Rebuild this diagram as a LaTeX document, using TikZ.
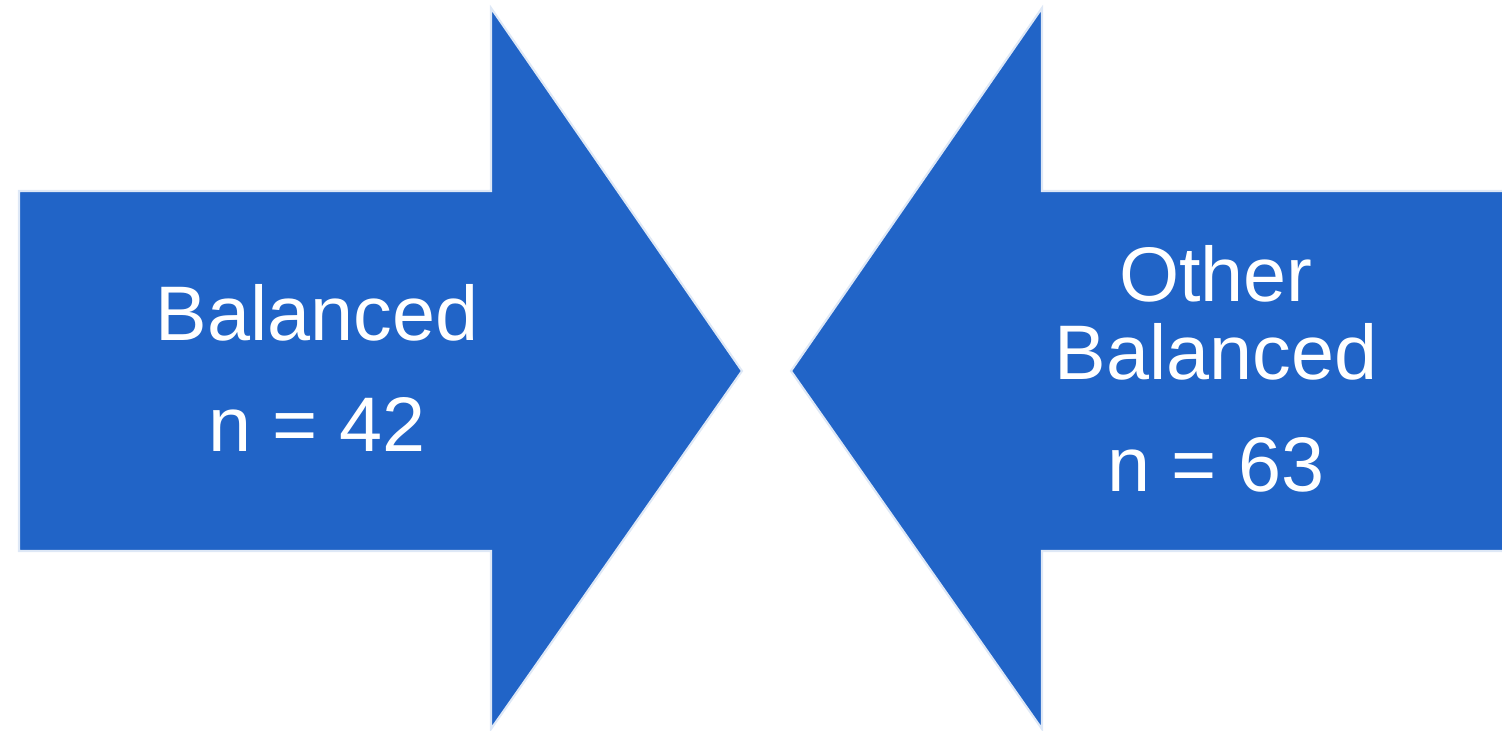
\documentclass[tikz,border=0pt]{standalone}
\usepackage{fontspec}
\setmainfont{Liberation Sans}
\definecolor{arrowblue}{RGB}{33,100,199}
\definecolor{edgeblue}{RGB}{222,232,246}
\begin{document}
\begin{tikzpicture}[x=0.01cm,y=-0.01cm,
  bigarrow/.style={fill=arrowblue,draw=edgeblue,line width=0.6pt,line join=miter},
  lbl/.style={text=white,font=\fontsize{22}{24}\selectfont,anchor=base,inner sep=0pt}]
\useasboundingbox (0,0) rectangle (1502,731);
\path[bigarrow] (19,191) -- (491,191) -- (491,8) -- (742,371) -- (491,729) -- (491,551) -- (19,551) -- cycle;
\path[bigarrow] (1504,191) -- (1042,191) -- (1042,8) -- (791,371) -- (1042,729) -- (1042,551) -- (1504,551) -- cycle;
\node[lbl] (l1) at (317,341) {Balanced};
\node[lbl] (l2) at (317,452) {n = 42};
\node[lbl] (r1) at (1216,302) {Other};
\node[lbl] (r2) at (1216,380) {Balanced};
\node[lbl] (r3) at (1216,492) {n = 63};
\end{tikzpicture}
\end{document}
